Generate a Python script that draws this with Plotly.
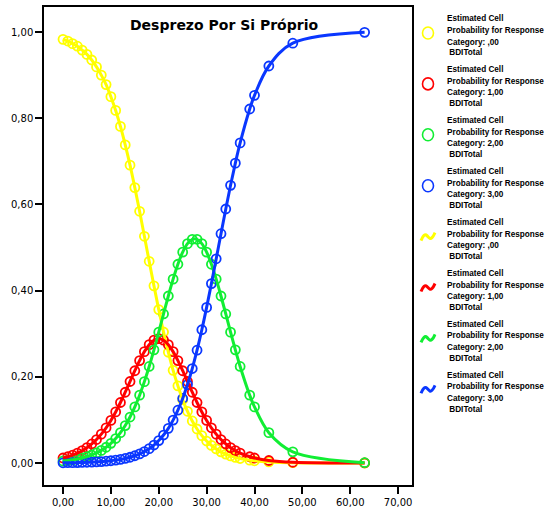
import plotly.graph_objects as go

# BDITotal values (x) at which the estimated probabilities are shown
bdi_total = [0, 1, 2, 3, 4, 5, 6, 7, 8, 9, 10, 11, 12, 13, 14, 15, 16, 17, 18, 19,
             20, 21, 22, 23, 24, 25, 26, 27, 28, 29, 30, 31, 32, 33, 34, 35, 36, 37,
             39, 40, 43, 48, 63]

# Estimated cell probability, response category ,00
prob_cat0 = [0.983, 0.979, 0.973, 0.967, 0.958, 0.948, 0.935, 0.919, 0.900, 0.878,
             0.850, 0.818, 0.781, 0.738, 0.691, 0.639, 0.584, 0.526, 0.468, 0.411,
             0.356, 0.304, 0.257, 0.215, 0.179, 0.147, 0.120, 0.0976, 0.0789, 0.0635,
             0.0510, 0.0408, 0.0326, 0.0260, 0.0207, 0.0165, 0.0131, 0.0104,
             0.0066, 0.0052, 0.0026, 0.0008, 0.0000]
# category 1,00
prob_cat1 = [0.0117, 0.0146, 0.0183, 0.0229, 0.0286, 0.0356, 0.0442, 0.0545, 0.0670, 0.0817,
             0.0988, 0.1185, 0.1404, 0.1642, 0.1891, 0.2141, 0.2377, 0.2584, 0.2746, 0.2850,
             0.2885, 0.2850, 0.2746, 0.2584, 0.2377, 0.2141, 0.1891, 0.1642, 0.1404, 0.1185,
             0.0988, 0.0817, 0.0670, 0.0545, 0.0442, 0.0356, 0.0286, 0.0229,
             0.0146, 0.0117, 0.0059, 0.0018, 0.0001]
# category 2,00
prob_cat2 = [0.0047, 0.0059, 0.0074, 0.0094, 0.0118, 0.0148, 0.0186, 0.0234, 0.0293, 0.0366,
             0.0456, 0.0568, 0.0704, 0.0869, 0.1067, 0.1301, 0.1574, 0.1888, 0.2240, 0.2626,
             0.3036, 0.3458, 0.3875, 0.4266, 0.4612, 0.4892, 0.5089, 0.5191, 0.5191, 0.5089,
             0.4892, 0.4612, 0.4266, 0.3875, 0.3458, 0.3036, 0.2626, 0.2240,
             0.1574, 0.1301, 0.0704, 0.0260, 0.0007]
# category 3,00
prob_cat3 = [0.0005, 0.0007, 0.0008, 0.0010, 0.0013, 0.0017, 0.0021, 0.0027, 0.0033, 0.0042,
             0.0053, 0.0067, 0.0084, 0.0106, 0.0134, 0.0169, 0.0212, 0.0266, 0.0333, 0.0417,
             0.0521, 0.0649, 0.0805, 0.0996, 0.1225, 0.1498, 0.1820, 0.2192, 0.2617, 0.3092,
             0.3610, 0.4163, 0.4738, 0.5320, 0.5893, 0.6443, 0.6957, 0.7427,
             0.8214, 0.8531, 0.9211, 0.9740, 0.9992]

categories = [",00", "1,00", "2,00", "3,00"]
series = [prob_cat0, prob_cat1, prob_cat2, prob_cat3]
colors = ["#ffff00", "#ff0000", "#11ee33", "#0a37ff"]

title_text = "Desprezo Por Si Próprio"
x_ticks = [0, 10, 20, 30, 40, 50, 60, 70]
y_ticks = [0.0, 0.2, 0.4, 0.6, 0.8, 1.0]

# ---- layout geometry (pixels) ----
W, H = 545, 519
ML, MR, MT, MB = 44, 133, 7, 34
PW, PH = W - ML - MR, H - MT - MB


def px_x(px):
    return (px - ML) / PW


def px_y(py):
    return (H - MB - py) / PH


fig = go.Figure()
for cat, vals, col in zip(categories, series, colors):
    fig.add_trace(go.Scatter(
        x=bdi_total, y=vals, mode="markers", showlegend=False,
        marker=dict(symbol="circle-open", size=9, color=col, line=dict(width=1.8, color=col)),
    ))
for cat, vals, col in zip(categories, series, colors):
    fig.add_trace(go.Scatter(
        x=bdi_total, y=vals, mode="lines", showlegend=False,
        line=dict(color=col, width=3, shape="spline", smoothing=1.0),
    ))

# ---- hand-built legend (8 entries: 4 marker entries, then 4 line entries) ----
annotations = []
shapes = []
entry_y0, entry_step = 33, 50.9
sym_x, text_x = 428, 445
line_offsets = [-14, -2.5, 9, 20]
wave = "M -7,-4 C -5,1 -3,3 -1,1 S 2,-3 4,-1 S 6,2 7,4"
for k in range(8):
    ci = k % 4
    col = colors[ci]
    yc = entry_y0 + k * entry_step
    if k < 4:
        shapes.append(dict(type="circle", xref="paper", yref="paper",
                           xsizemode="pixel", ysizemode="pixel",
                           xanchor=px_x(sym_x), yanchor=px_y(yc),
                           x0=-5.5, x1=5.5, y0=-6, y1=6,
                           line=dict(color=col, width=1.6)))
    else:
        shapes.append(dict(type="path", xref="paper", yref="paper",
                           xsizemode="pixel", ysizemode="pixel",
                           xanchor=px_x(sym_x), yanchor=px_y(yc),
                           path=wave, line=dict(color=col, width=3)))
    lines = ["Estimated Cell", "Probability for Response",
             "Category: " + categories[ci], "\u00a0BDITotal"]
    for txt, off in zip(lines, line_offsets):
        annotations.append(dict(text="<b>" + txt + "</b>", xref="paper", yref="paper",
                                x=px_x(text_x), y=px_y(yc + off),
                                xanchor="left", yanchor="middle", showarrow=False,
                                font=dict(family="Liberation Sans", size=8.2, color="black")))

annotations.append(dict(text="<b>" + title_text + "</b>", xref="paper", yref="paper",
                        x=0.49, y=0.962, xanchor="center", yanchor="middle",
                        showarrow=False,
                        font=dict(family="DejaVu Sans", size=14, color="black")))

axis_common = dict(showline=True, linecolor="black", linewidth=1.5, mirror=True,
                   showgrid=False, zeroline=False, ticks="outside", ticklen=7,
                   tickwidth=1.5, tickcolor="black", tickformat=".2f",
                   tickfont=dict(family="DejaVu Sans", size=10, color="black"))

fig.update_layout(
    width=W, height=H,
    margin=dict(l=ML, r=MR, t=MT, b=MB, autoexpand=False),
    paper_bgcolor="white", plot_bgcolor="white",
    separators=",.",
    showlegend=False,
    xaxis=dict(range=[-3.97, 72.9], tickvals=x_ticks, **axis_common),
    yaxis=dict(range=[-0.051, 1.058], tickvals=y_ticks, **axis_common),
    annotations=annotations,
    shapes=shapes,
)

fig.write_html("out.html")
